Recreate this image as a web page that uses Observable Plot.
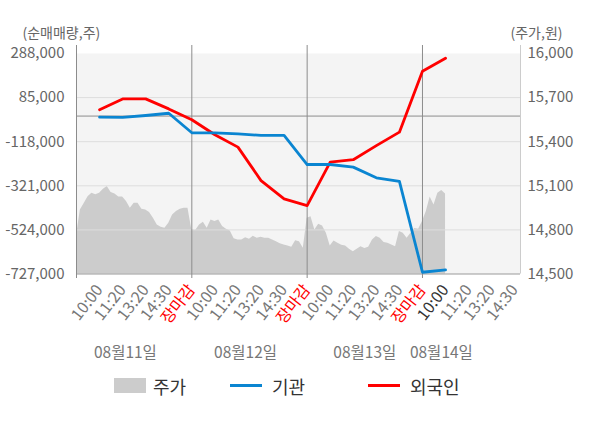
<!DOCTYPE html>
<html>
<head>
<meta charset="utf-8">
<script src="https://cdn.jsdelivr.net/npm/d3@7"></script>
<script src="https://cdn.jsdelivr.net/npm/@observablehq/plot@0.6"></script>
<style>
  body { margin: 0; background: #fff; font-family: "Noto Sans CJK KR", "Noto Sans", sans-serif; }
  #legend { position: relative; height: 58px; width: 600px; font-size: 18px; color: #333; }
  #legend .sw { position: absolute; }
  #legend .lb { position: absolute; top: 4px; line-height: 24px; }
</style>
</head>
<body>
<div id="chart"></div>
<div id="legend">
  <div class="sw" style="left:114px;top:8px;width:32px;height:15px;background:#cccccc"></div>
  <div class="lb" style="left:153px">주가</div>
  <div class="sw" style="left:230px;top:14px;width:32px;height:3px;background:#0a85d1"></div>
  <div class="lb" style="left:272px">기관</div>
  <div class="sw" style="left:368px;top:14px;width:32px;height:3px;background:#ff0000"></div>
  <div class="lb" style="left:410px">외국인</div>
</div>
<script>
// ---- data ----
const days = ["08월11일", "08월12일", "08월13일", "08월14일"];
const slots = ["10:00", "11:20", "13:20", "14:30", "장마감"];
const slotsPerDay = [5, 5, 5, 4];

// net buying (shares) at each slot: 10:00, 11:20, 13:20, 14:30, close ...
const foreign = [29000, 79000, 79000, 33000, -17000,
                 -86000, -143000, -297000, -381000, -412000,
                 -212000, -201000, -136000, -74000, 206000,
                 266000];
const institution = [-5000, -6000, 2600, 13000, -77000,
                     -77000, -82000, -89000, -89000, -223000,
                     -223000, -235000, -284000, -301000, -719000,
                     -708000];

// intraday price (won), evenly sampled through each session
const price0811 = [14760, 14936, 14980, 15025, 15050, 15039, 15050, 15077, 15095, 15055,
                   15045, 15023, 15023, 14993, 14948, 14982, 14982, 14941, 14936, 14918,
                   14880, 14834, 14818, 14811, 14845, 14902, 14925, 14941, 14948, 14948];
const price0812 = [14800, 14796, 14834, 14852, 14811, 14868, 14857, 14868, 14823, 14805,
                   14793, 14739, 14731, 14731, 14746, 14736, 14757, 14743, 14750, 14743,
                   14743, 14731, 14720, 14705, 14698, 14691, 14682, 14727, 14720, 14675];
const price0813 = [14880, 14889, 14800, 14839, 14827, 14777, 14691, 14725, 14709, 14695,
                   14691, 14668, 14652, 14668, 14686, 14673, 14682, 14732, 14755, 14743,
                   14714, 14709, 14698, 14686, 14789, 14777, 14743, 14777, 14809, 14805];
const price0814 = [14857, 14925, 15023, 14970, 15050, 15068, 15045];
const priceDays = [price0811, price0812, price0813, price0814];
const samplesPerDay = 30;

const leftTicks = [288000, 85000, -118000, -321000, -524000, -727000];
const rightTicks = [16000, 15700, 15400, 15100, 14800, 14500];

// ---- derived ----
const yMax = d3.max(leftTicks), yMin = d3.min(leftTicks);
const pMax = d3.max(rightTicks), pMin = d3.min(rightTicks);
const toLeft = p => yMin + (p - pMin) / (pMax - pMin) * (yMax - yMin);
const fromLeft = v => pMin + (v - yMin) / (yMax - yMin) * (pMax - pMin);
const fmt = v => Math.round(v).toLocaleString("en-US");

const S = slots.length;           // slot units per day
const xMax = 19.25;

const priceData = priceDays.flatMap((arr, d) =>
  arr.map((price, i) => ({p: d * S + i * S / samplesPerDay, price})));

const lineData = [
  ...foreign.map((v, j) => ({p: j + 1, v, who: "외국인"})),
  ...institution.map((v, j) => ({p: j + 1, v, who: "기관"}))
];

const tickData = days.flatMap((day, d) =>
  slots.slice(0, slotsPerDay[d]).map((label, k) => ({
    p: d * S + k + 1,
    label,
    color: label === "장마감" ? "#ff0000" : (d === days.length - 1 && k === 0 ? "#333333" : "#777777")
  })));

const dayOffsets = [2.12, 2.33, 2.5, 0.82];

const chart = Plot.plot({
  width: 600,
  height: 370,
  marginLeft: 76,
  marginRight: 80,
  marginTop: 53,
  marginBottom: 96.5,
  style: {fontFamily: '"Noto Sans CJK KR", "Noto Sans", sans-serif', fontSize: "14px", background: "#fff", overflow: "visible"},
  x: {domain: [0, xMax], axis: null},
  y: {domain: [yMin, yMax], axis: null},
  marks: [
    Plot.frame({fill: "#f4f4f4", stroke: null}),
    Plot.areaY(priceData, {x: "p", y1: yMin, y2: d => toLeft(d.price), fill: "#cccccc"}),
    Plot.ruleY(leftTicks.filter(t => t !== yMin && t !== yMax), {stroke: "#dddddd", strokeWidth: 1}),
    Plot.ruleY([0], {stroke: "#8c8c8c", strokeWidth: 1}),
    Plot.ruleY([yMin], {stroke: "#999999", strokeWidth: 1.2}),
    Plot.ruleX(days.map((d, i) => i * S), {stroke: "#8c8c8c", strokeWidth: 1, insetTop: -8, insetBottom: -4.5}),
    Plot.ruleX([xMax], {stroke: "#cccccc", strokeWidth: 1, insetTop: -8}),
    Plot.line(lineData, {x: "p", y: "v", z: "who",
      stroke: d => d.who === "외국인" ? "#ff0000" : "#0a85d1", strokeWidth: 2.8}),
    Plot.axisY(leftTicks, {anchor: "left", label: null, tickSize: 0, tickPadding: 12, tickFormat: fmt,
      fill: "#666666", fontSize: 15}),
    Plot.axisY(rightTicks.map(toLeft), {anchor: "right", label: null, tickSize: 0, tickPadding: 7,
      tickFormat: v => fmt(fromLeft(v)), fill: "#666666", fontSize: 15}),
    Plot.text(tickData, {x: "p", text: "label", frameAnchor: "bottom", dx: 4, dy: 16, rotate: -52,
      textAnchor: "end", fill: "color", fontSize: 16}),
    Plot.text(days, {x: (d, i) => i * S + dayOffsets[i], text: d => d, frameAnchor: "bottom",
      lineAnchor: "middle", dy: 79.5, fill: "#777777", fontSize: 15.5}),
    Plot.text(["(순매매량,주)"], {frameAnchor: "top-left", lineAnchor: "middle", dx: -54, dy: -20,
      textAnchor: "start", fill: "#666666", fontSize: 14}),
    Plot.text(["(주가,원)"], {frameAnchor: "top-right", lineAnchor: "middle", dx: 42, dy: -20,
      textAnchor: "end", fill: "#666666", fontSize: 14})
  ]
});
document.getElementById("chart").appendChild(chart);
</script>
</body>
</html>
